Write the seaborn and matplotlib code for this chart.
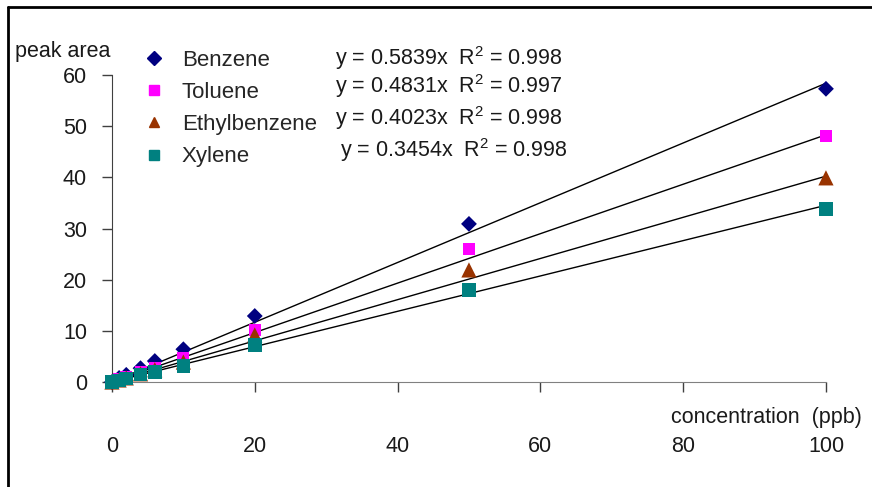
import numpy as np
import pandas as pd
import matplotlib.pyplot as plt
from matplotlib.lines import Line2D
import seaborn as sns

# data
conc = [0, 1, 2, 4, 6, 10, 20, 50, 100]
compounds = ['Benzene', 'Toluene', 'Ethylbenzene', 'Xylene']
benzene = [0, 0.8, 1.4, 2.7, 4.1, 6.4, 12.9, 30.9, 57.3]
toluene = [0, 0.5, 1.0, 2.0, 2.7, 4.7, 10.2, 26.0, 48.1]
ethylbenzene = [0, 0.4, 0.8, 1.6, 2.4, 3.9, 9.2, 21.9, 39.9]
xylene = [0, 0.3, 0.7, 1.5, 2.0, 3.1, 7.2, 18.0, 33.8]
slopes = [0.5839, 0.4831, 0.4023, 0.3454]
r2 = [0.998, 0.997, 0.998, 0.998]

colors = ['#000080', '#FF00FF', '#993300', '#008080']
markers = ['D', 's', '^', 's']
marker_area = [65, 75, 120, 95]

df = pd.DataFrame({
    'concentration': conc * 4,
    'peak area': benzene + toluene + ethylbenzene + xylene,
    'compound': np.repeat(compounds, len(conc)),
})

sns.set_style('ticks')
plt.rcParams['font.family'] = ['Liberation Sans', 'DejaVu Sans']
plt.rcParams['mathtext.fontset'] = 'custom'
plt.rcParams['mathtext.rm'] = 'Liberation Sans'
plt.rcParams['mathtext.it'] = 'Liberation Sans'

fig = plt.figure(figsize=(8.72, 4.87), dpi=100)
ax = fig.add_axes([0.1284, 0.2156, 0.8188, 0.6304])

# trend lines through the origin
xs = np.array([0, 100])
for k in slopes:
    ax.plot(xs, k * xs, color='black', lw=1, zorder=2)

sns.scatterplot(data=df, x='concentration', y='peak area', hue='compound',
                style='compound', size='compound',
                palette=dict(zip(compounds, colors)),
                markers=dict(zip(compounds, markers)),
                sizes=dict(zip(compounds, marker_area)), linewidth=0,
                ax=ax, clip_on=False, zorder=3, legend=False)

ax.set_xlim(0, 100)
ax.set_ylim(0, 60)
ax.set_xticks([0, 20, 40, 60, 80, 100])
ax.set_yticks([0, 10, 20, 30, 40, 50, 60])
ax.set_xlabel('')
ax.set_ylabel('')
sns.despine(ax=ax)
ax.spines['left'].set_color('#404040')
ax.spines['bottom'].set_color('#808080')
ax.tick_params(axis='x', direction='out', length=7, width=1, color='#404040',
               pad=32, labelsize=15.5, labelcolor='#1a1a1a')
ax.tick_params(axis='y', direction='out', length=7, width=1, color='#404040',
               pad=11, labelsize=15.5, labelcolor='#1a1a1a')

fig.text(15 / 872, 1 - 52 / 487, 'peak area', fontsize=15.5, va='center',
         color='#1a1a1a')
fig.text(862 / 872, 1 - 417 / 487, 'concentration  (ppb)', fontsize=15.5,
         ha='right', va='center', color='#1a1a1a')

# legend
handles = [Line2D([], [], marker=m, color=c, ls='none', markersize=7)
           for m, c in zip(markers, colors)]
fig.legend(handles, compounds, loc='upper left',
           bbox_to_anchor=(145 / 872, 1 - 50 / 487), frameon=False,
           fontsize=16, handlelength=0.8, handletextpad=0.85,
           labelspacing=0.5, borderpad=0, borderaxespad=0)

eq_y = [58, 86, 118, 150]
eq_x = [335, 335, 335, 340]
for k, r, ex, ey in zip(slopes, r2, eq_x, eq_y):
    fig.text(ex / 872, 1 - ey / 487, f'y = {k:.4f}x  R$^2$ = {r:.3f}',
             fontsize=15.5, va='center', color='#1a1a1a')

# outer frame (top and left)
fig.add_artist(Line2D([8 / 872, 1], [1 - 7 / 487, 1 - 7 / 487],
                      color='black', lw=2, transform=fig.transFigure))
fig.add_artist(Line2D([8 / 872, 8 / 872], [0, 1 - 7 / 487],
                      color='black', lw=2, transform=fig.transFigure))

fig.savefig('out.png', dpi=100)
